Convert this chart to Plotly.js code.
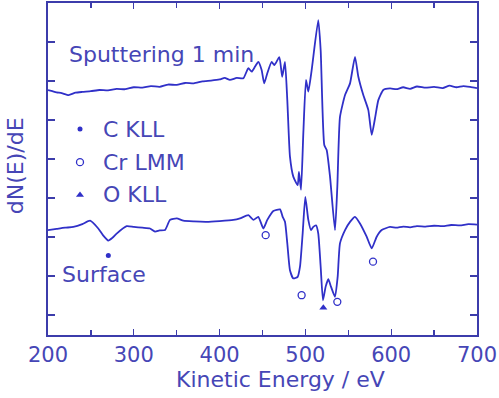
<!DOCTYPE html>
<html>
<head>
<meta charset="utf-8">
<script src="https://cdn.plot.ly/plotly-3.0.1.min.js"></script>
<style>html,body{margin:0;padding:0;background:#fff;}#chart{width:499px;height:398px;}</style>
</head>
<body>
<div id="chart"></div>
<script>
// Sputtering 1 min spectrum (upper curve)
const sputterEnergy = [200,205,210,216,224,232,240,250,260,270,280,290,300,310,320,330,340,350,360,370,380,390,400,406,412,420,427.7,433.5,437.4,441.3,445.1,449,452,455.6,460.7,463.8,469.6,473,476.2,478.9,482,485.9,491,492.5,494.9,497.6,500.7,503.4,507.3,515,517.8,522,524.8,528.7,534.5,537.2,540.3,546.2,552,557.8,561.7,567.5,573.3,577.3,581.1,585,590.8,598.6,606,614,622,630,640,650,660,668,676,684,692,700];
const sputterSignal = [5.77,5.74,5.71,5.69,5.64,5.70,5.72,5.74,5.77,5.76,5.80,5.79,5.84,5.83,5.87,5.85,5.91,5.90,5.95,5.94,5.99,6.01,6.04,6.08,6.03,6.08,6.07,6.33,6.24,6.37,6.49,6.28,5.94,6.20,6.49,6.41,6.61,6.11,6.49,5.51,4.06,3.55,3.33,3.67,3.21,4.67,6.03,5.73,6.28,7.56,6.79,4.36,4.23,3.55,2.18,3.29,5.08,5.64,5.94,6.62,6.11,5.64,5.26,4.62,5.04,5.51,5.77,5.81,5.79,5.84,5.80,5.86,5.83,5.85,5.82,5.88,5.84,5.87,5.85,5.82];

// Surface spectrum (lower curve)
const surfaceEnergy = [200,210,220,229.5,240,249,258.6,264,270.3,275,280,291.7,300,310,318.9,324.7,330,336.4,342.2,350,357.7,370,385,400,416,423.8,433.5,439.4,445.1,451,455.6,462.6,470.4,473.5,476.2,478.9,482,485.9,491,493.7,496.8,499.9,503.4,506.5,509.2,512.4,515,517.8,520.5,523.6,526.7,529.8,534.5,537.6,540.3,546.2,552,557.8,563.6,571.4,577.3,583.1,588.9,598.6,606,614,622,630,640,650,660,670,680,690,700];
const surfaceSignal = [2.18,2.21,2.24,2.26,2.33,2.42,2.22,2.05,1.91,1.98,2.09,2.28,2.26,2.24,2.22,2.14,2.17,2.18,2.44,2.48,2.42,2.40,2.39,2.41,2.44,2.48,2.56,2.44,2.52,2.22,2.44,2.67,2.71,2.52,2.39,1.84,1.15,0.94,0.98,1.24,2.09,3.03,2.44,2.18,2.26,2.30,2.09,1.24,0.38,0.73,0.92,0.73,0.47,0.98,1.84,2.18,2.39,2.52,2.35,2.01,1.71,2.01,2.18,2.26,2.24,2.27,2.25,2.28,2.27,2.29,2.28,2.31,2.30,2.33,2.32];

// Peak assignment markers
const cEnergy = [270.3];
const cLevel = [1.53];
const crEnergy = [453.7, 495.6, 537.2, 578.8];
const crLevel = [2.05, 0.51, 0.34, 1.37];
const oEnergy = [520.9];
const oLevel = [0.19];

// Key (symbol list) entries
const keyLabels = ["C KLL", "Cr LMM", "O KLL"];
const keyEnergy = [237.3, 237.3, 237.3];
const keyLevel = [4.77, 3.92, 3.08];
const keyTextEnergy = 262;

const xTickVals = [200, 300, 400, 500, 600, 700];
const xTickText = ["200", "300", "400", "500", "600", "700"];

const lineColor = "#3030c8";
const frameColor = "#3c3cab";
const textColor = "#4646b6";
const font = "DejaVu Sans, sans-serif";

const traces = [
  {x: sputterEnergy, y: sputterSignal, mode: "lines", line: {color: lineColor, width: 1.8, shape: "spline", smoothing: 0.5}, hoverinfo: "skip"},
  {x: surfaceEnergy, y: surfaceSignal, mode: "lines", line: {color: lineColor, width: 1.8, shape: "spline", smoothing: 0.5}, hoverinfo: "skip"},
  {x: cEnergy, y: cLevel, mode: "markers", marker: {symbol: "circle", size: 5, color: lineColor}},
  {x: crEnergy, y: crLevel, mode: "markers", marker: {symbol: "circle-open", size: 7, color: lineColor, line: {width: 1.3, color: lineColor}}},
  {x: oEnergy, y: oLevel, mode: "markers", marker: {symbol: "triangle-up", size: 7, color: lineColor}},
  {x: [keyEnergy[0]], y: [keyLevel[0]], mode: "markers", marker: {symbol: "circle", size: 5, color: lineColor}},
  {x: [keyEnergy[1]], y: [keyLevel[1]], mode: "markers", marker: {symbol: "circle-open", size: 7, color: lineColor, line: {width: 1.3, color: lineColor}}},
  {x: [keyEnergy[2]], y: [keyLevel[2]], mode: "markers", marker: {symbol: "triangle-up", size: 7, color: lineColor}}
];

const annotations = [
  {x: 222, y: 6.67, xref: "x", yref: "y", text: "Sputtering 1 min", showarrow: false, xanchor: "left", yanchor: "middle", font: {family: font, size: 22, color: textColor}},
  {x: 214, y: 1.05, xref: "x", yref: "y", text: "Surface", showarrow: false, xanchor: "left", yanchor: "middle", font: {family: font, size: 22, color: textColor}},
  {x: 0.543, y: -0.135, xref: "paper", yref: "paper", text: "Kinetic Energy / eV", showarrow: false, xanchor: "center", yanchor: "middle", font: {family: font, size: 22, color: textColor}},
  {x: -0.0758, y: 0.51, xref: "paper", yref: "paper", text: "dN(E)/dE", showarrow: false, textangle: -90, xanchor: "center", yanchor: "middle", font: {family: font, size: 22, color: textColor}}
];
keyLabels.forEach((t, i) => annotations.push({x: keyTextEnergy, y: keyLevel[i], xref: "x", yref: "y", text: t, showarrow: false, xanchor: "left", yanchor: "middle", font: {family: font, size: 22, color: textColor}}));

const layout = {
  width: 499, height: 398,
  margin: {l: 48, r: 22, t: 3, b: 63},
  paper_bgcolor: "#ffffff", plot_bgcolor: "#ffffff",
  showlegend: false,
  font: {family: font, size: 21, color: textColor},
  xaxis: {
    range: [200, 700], tickmode: "array", tickvals: xTickVals, ticktext: xTickText,
    ticks: "inside", ticklen: 6, tickwidth: 1.3, tickcolor: frameColor,
    minor: {dtick: 50, ticks: "inside", ticklen: 5, tickwidth: 1.3, tickcolor: frameColor},
    showline: true, linecolor: frameColor, linewidth: 2, mirror: "ticks",
    showgrid: false, zeroline: false,
    tickfont: {family: font, size: 21, color: textColor}
  },
  yaxis: {
    range: [-0.51, 8.0], tickmode: "array", tickvals: [0,1,2,3,4,5,6,7,8],
    ticks: "inside", ticklen: 7, tickwidth: 1.3, tickcolor: frameColor,
    showticklabels: false,
    showline: true, linecolor: frameColor, linewidth: 2, mirror: "ticks",
    showgrid: false, zeroline: false
  },
  annotations: annotations
};

Plotly.newPlot("chart", traces, layout, {displayModeBar: false, staticPlot: true});
</script>
</body>
</html>
